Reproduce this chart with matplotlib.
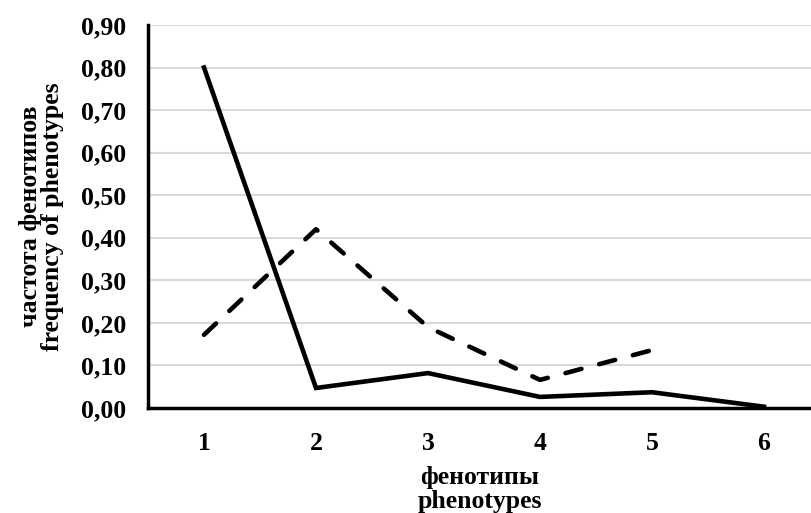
import matplotlib
matplotlib.use("Agg")
import matplotlib.pyplot as plt
from matplotlib.ticker import FuncFormatter

# data
phenotypes = [1, 2, 3, 4, 5, 6]
freq_solid = [0.80, 0.047, 0.082, 0.026, 0.037, 0.003]
pheno_dashed = [1, 2, 3, 4, 5]
freq_dashed = [0.172, 0.42, 0.19, 0.066, 0.136]
yticks = [0.0, 0.1, 0.2, 0.3, 0.4, 0.5, 0.6, 0.7, 0.8, 0.9]

plt.rcParams["font.family"] = ["Liberation Serif", "DejaVu Serif"]
plt.rcParams["font.weight"] = "bold"
fs = 18.5

fig = plt.figure(figsize=(8.11, 5.13), dpi=100)
ax = fig.add_axes([0.1825, 0.2047, 0.8175, 0.7466])

ax.plot(phenotypes, freq_solid, color="black", lw=3.3, solid_joinstyle="miter")
ax.plot(pheno_dashed, freq_dashed, color="black", lw=3.3,
        linestyle=(0, (3.6, 4.0)), dash_capstyle="round")

ax.set_xlim(0.5, 6.42)
ax.set_ylim(0, 0.9)
ax.set_yticks(yticks)
ax.set_xticks(phenotypes)
ax.yaxis.set_major_formatter(FuncFormatter(lambda v, p: f"{v:.2f}".replace(".", ",")))
ax.tick_params(axis="both", length=0, labelsize=fs)
ax.tick_params(axis="y", pad=16)
ax.tick_params(axis="x", pad=17)

ax.grid(axis="y", color="#d9d9d9", lw=1.5)
ax.set_axisbelow(True)
for s in ["top", "right"]:
    ax.spines[s].set_visible(False)
for s in ["left", "bottom"]:
    ax.spines[s].set_linewidth(2.5)
    ax.spines[s].set_color("black")

ax.set_xlabel("фенотипы\nphenotypes", fontsize=fs, fontweight="bold", labelpad=8,
              linespacing=1.05)
ax.set_ylabel("частота фенотипов\nfrequency of phenotypes", fontsize=fs,
              fontweight="bold", labelpad=12, linespacing=0.95)

fig.savefig("out.png", dpi=100)
